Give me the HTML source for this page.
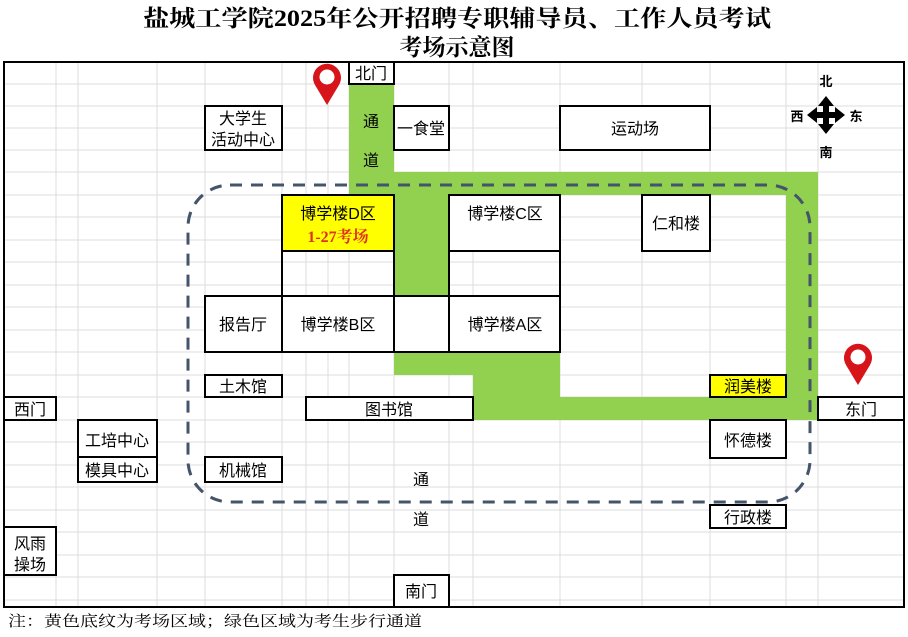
<!DOCTYPE html>
<html><head><meta charset="utf-8"><style>
body{margin:0;background:#fff}
svg text{font-family:"Liberation Sans","Noto Sans CJK SC",sans-serif;font-size:16px;fill:#000}
</style></head><body>
<svg width="908" height="632" viewBox="0 0 908 632" xmlns="http://www.w3.org/2000/svg">
<rect width="908" height="632" fill="#fff"/>
<g stroke="#dcdcdc" stroke-width="1">
<path d="M56 62V607M78 62V607M157 62V607M205 62V607M282 62V607M306 62V607M328 62V607M349 62V607M394 62V607M449 62V607M473 62V607M560 62V607M642 62V607M710 62V607M786 62V607M818 62V607"/>
<path d="M4 84H904M4 106H904M4 128H904M4 150H904M4 172H904M4 195H904M4 217H904M4 240H904M4 262H904M4 285H904M4 307H904M4 330H904M4 352H904M4 375H904M4 397H904M4 420H904M4 442H904M4 465H904M4 487H904M4 510H904M4 532H904M4 555H904M4 577H904M4 600H904"/>
</g>
<g fill="#92d050">
<rect x="349" y="84" width="45" height="111"/>
<rect x="349" y="172" width="469" height="23"/>
<rect x="786" y="172" width="32" height="248"/>
<rect x="394" y="195" width="55" height="101"/>
<rect x="394" y="352" width="166" height="23"/>
<rect x="473" y="352" width="87" height="68"/>
<rect x="473" y="397" width="345" height="23"/>
</g>
<g stroke="#000" stroke-width="2" fill="#fff">
<rect x="349" y="62" width="45" height="22"/>
<rect x="205" y="106" width="77" height="44"/>
<rect x="394" y="106" width="55" height="44"/>
<rect x="560" y="106" width="150" height="44"/>
<rect x="282" y="195" width="112" height="56" fill="#ffff00"/>
<rect x="282" y="251" width="112" height="45" fill="none"/>
<rect x="449" y="195" width="111" height="56"/>
<rect x="449" y="251" width="111" height="45" fill="none"/>
<rect x="642" y="195" width="68" height="56"/>
<rect x="205" y="296" width="77" height="56"/>
<rect x="282" y="296" width="112" height="56"/>
<rect x="394" y="296" width="55" height="56"/>
<rect x="449" y="296" width="111" height="56"/>
<rect x="205" y="375" width="77" height="22"/>
<rect x="306" y="397" width="167" height="23"/>
<rect x="4" y="397" width="52" height="23"/>
<rect x="78" y="420" width="79" height="37"/>
<rect x="78" y="457" width="79" height="25"/>
<rect x="205" y="457" width="77" height="25"/>
<rect x="4" y="527" width="52" height="48"/>
<rect x="394" y="575" width="55" height="32"/>
<rect x="710" y="375" width="76" height="22" fill="#ffff00"/>
<rect x="710" y="420" width="76" height="38"/>
<rect x="710" y="505" width="76" height="23"/>
<rect x="818" y="397" width="86" height="23"/>
</g>
<rect x="4" y="62" width="900" height="545" fill="none" stroke="#000" stroke-width="2"/>
<rect x="188" y="185" width="622" height="317" rx="42" fill="none" stroke="#44546a" stroke-width="3" stroke-dasharray="12 9"/>
<g text-anchor="middle">
<text x="371" y="79">北门</text>
<text x="243" y="124">大学生</text>
<text x="243" y="145">活动中心</text>
<text x="371" y="127">通</text>
<text x="371" y="166">道</text>
<text x="421" y="134">一食堂</text>
<text x="635" y="134">运动场</text>
<text x="338" y="219">博学楼D区</text>
<text x="338" y="242" style="font-family:'Liberation Serif','Noto Serif CJK SC',serif;font-weight:bold;fill:#e03020;font-size:16px">1-27考场</text>
<text x="505" y="219">博学楼C区</text>
<text x="676" y="229">仁和楼</text>
<text x="243" y="330">报告厅</text>
<text x="338" y="330">博学楼B区</text>
<text x="505" y="330">博学楼A区</text>
<text x="243" y="392">土木馆</text>
<text x="389" y="415">图书馆</text>
<text x="30" y="415">西门</text>
<text x="117" y="446">工培中心</text>
<text x="117" y="476">模具中心</text>
<text x="243" y="476">机械馆</text>
<text x="421" y="485">通</text>
<text x="421" y="525">道</text>
<text x="30" y="549">风雨</text>
<text x="30" y="570">操场</text>
<text x="421" y="597">南门</text>
<text x="748" y="392">润美楼</text>
<text x="748" y="446">怀德楼</text>
<text x="748" y="523">行政楼</text>
<text x="861" y="415">东门</text>
<text x="826" y="86" style="font-size:13px;font-weight:bold">北</text>
<text x="797" y="121" style="font-size:13px;font-weight:bold">西</text>
<text x="856" y="121" style="font-size:13px;font-weight:bold">东</text>
<text x="826" y="157" style="font-size:13px;font-weight:bold">南</text>
</g>
<g fill="#000">
<rect x="823" y="104" width="6" height="22"/>
<rect x="815" y="112" width="22" height="6"/>
<polygon points="826,96 818,106 834,106"/>
<polygon points="826,134 818,124 834,124"/>
<polygon points="807,115 817,107 817,123"/>
<polygon points="845,115 835,107 835,123"/>
</g>
<g>
<path d="M327 105 L315 85 A14 14 0 1 1 339 85 Z" fill="#d7141a"/>
<circle cx="327" cy="77" r="7.5" fill="#fff"/>
<path d="M858 385 L846 365 A14 14 0 1 1 870 365 Z" fill="#d7141a"/>
<circle cx="858" cy="357" r="7.5" fill="#fff"/>
</g>
<g text-anchor="middle">
<text x="457" y="26" style="font-family:'Liberation Serif','Noto Serif CJK SC',serif;font-size:23px;font-weight:bold" textLength="628" lengthAdjust="spacingAndGlyphs">盐城工学院2025年公开招聘专职辅导员、工作人员考试</text>
<text x="457" y="55" style="font-family:'Liberation Serif','Noto Serif CJK SC',serif;font-size:23px;font-weight:bold">考场示意图</text>
</g>
<text x="8" y="626" style="font-family:'Liberation Serif','Noto Serif CJK SC',serif;font-size:15px" textLength="414" lengthAdjust="spacingAndGlyphs">注：黄色底纹为考场区域；绿色区域为考生步行通道</text>
</svg>
</body></html>
